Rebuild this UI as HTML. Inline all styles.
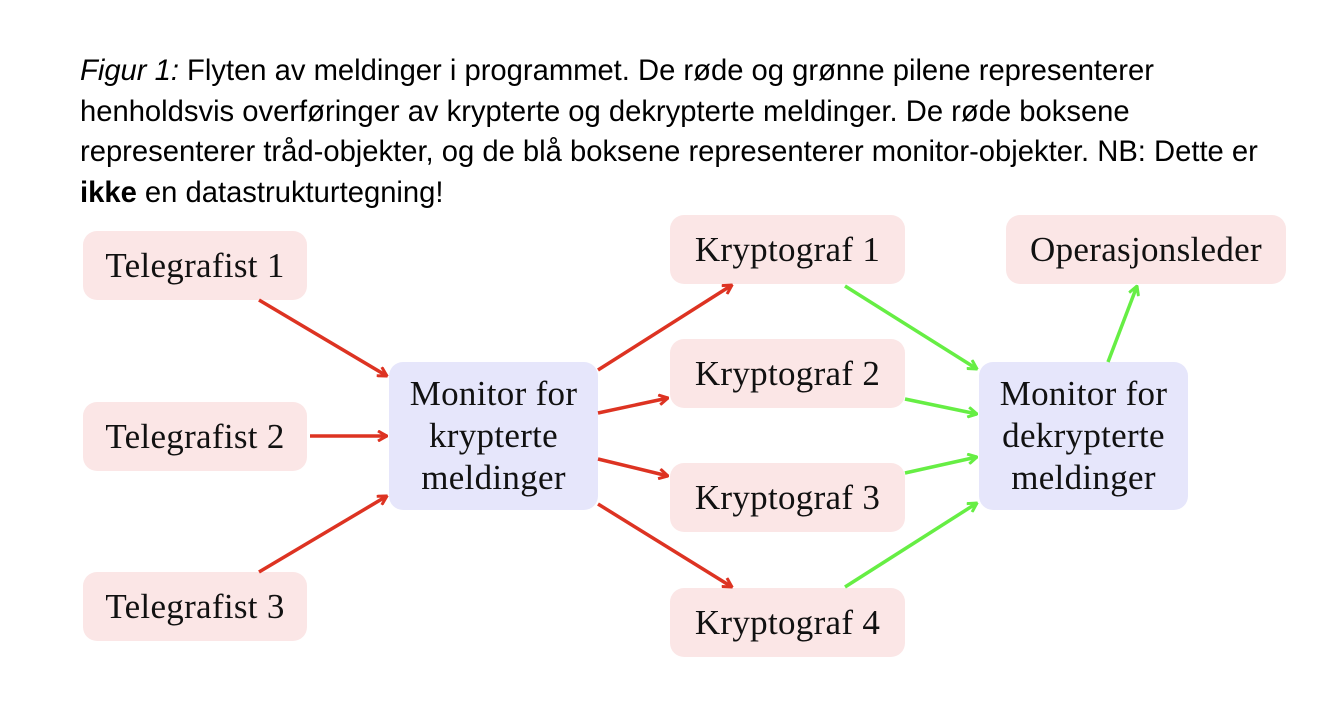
<!DOCTYPE html>
<html><head><meta charset="utf-8"><style>
body{margin:0;width:1342px;height:726px;background:#fff;overflow:hidden;position:relative}
.cap{position:absolute;left:80px;top:51px;font:29.2px/40.5px "Liberation Sans",sans-serif;color:#000;white-space:nowrap;letter-spacing:0}
.b{position:absolute;background:#fbe6e6;border-radius:14px;display:flex;align-items:center;justify-content:center;text-align:center;font:35px/42px "Liberation Serif",serif;color:#111;letter-spacing:0.3px}
.m{background:#e6e6fb}
svg{position:absolute;left:0;top:0}
</style></head><body>
<div class="cap"><i>Figur 1:</i> Flyten av meldinger i programmet. De røde og grønne pilene representerer<br>henholdsvis overføringer av krypterte og dekrypterte meldinger. De røde boksene<br>representerer tråd-objekter, og de blå boksene representerer monitor-objekter. NB: Dette er<br><b>ikke</b> en datastrukturtegning!</div>
<div class="b" style="left:83px;top:231px;width:224px;height:69px">Telegrafist 1</div>
<div class="b" style="left:83px;top:402px;width:224px;height:69px">Telegrafist 2</div>
<div class="b" style="left:83px;top:572px;width:224px;height:69px">Telegrafist 3</div>
<div class="b m" style="left:389px;top:362px;width:209px;height:148px">Monitor for<br>krypterte<br>meldinger</div>
<div class="b" style="left:670px;top:215px;width:235px;height:69px">Kryptograf 1</div>
<div class="b" style="left:670px;top:339px;width:235px;height:69px">Kryptograf 2</div>
<div class="b" style="left:670px;top:463px;width:235px;height:69px">Kryptograf 3</div>
<div class="b" style="left:670px;top:588px;width:235px;height:69px">Kryptograf 4</div>
<div class="b" style="left:1006px;top:215px;width:280px;height:69px">Operasjonsleder</div>
<div class="b m" style="left:979px;top:362px;width:209px;height:148px">Monitor for<br>dekrypterte<br>meldinger</div>
<svg width="1342" height="726">
<defs>
<marker id="r" viewBox="0 0 12 12" refX="11" refY="6" markerWidth="12" markerHeight="12" markerUnits="userSpaceOnUse" orient="auto"><polyline points="2,1 11,6 2,11" fill="none" stroke="#dd3322" stroke-width="3"/></marker>
<marker id="g" viewBox="0 0 12 12" refX="11" refY="6" markerWidth="12" markerHeight="12" markerUnits="userSpaceOnUse" orient="auto"><polyline points="2,1 11,6 2,11" fill="none" stroke="#66ee44" stroke-width="3"/></marker>
</defs>
<g stroke="#dd3322" stroke-width="3.5" marker-end="url(#r)">
<line x1="259" y1="300" x2="387" y2="376"/>
<line x1="310" y1="436" x2="387" y2="436"/>
<line x1="259" y1="572" x2="387" y2="496"/>
<line x1="598" y1="370" x2="732" y2="285"/>
<line x1="598" y1="413" x2="668" y2="398"/>
<line x1="598" y1="459" x2="668" y2="476"/>
<line x1="598" y1="504" x2="732" y2="587"/>
</g>
<g stroke="#66ee44" stroke-width="3.5" marker-end="url(#g)">
<line x1="845" y1="286" x2="977" y2="369"/>
<line x1="905" y1="399" x2="977" y2="414"/>
<line x1="905" y1="473" x2="977" y2="457"/>
<line x1="845" y1="587" x2="977" y2="503"/>
<line x1="1108" y1="362" x2="1137" y2="286"/>
</g>
</svg>
</body></html>
